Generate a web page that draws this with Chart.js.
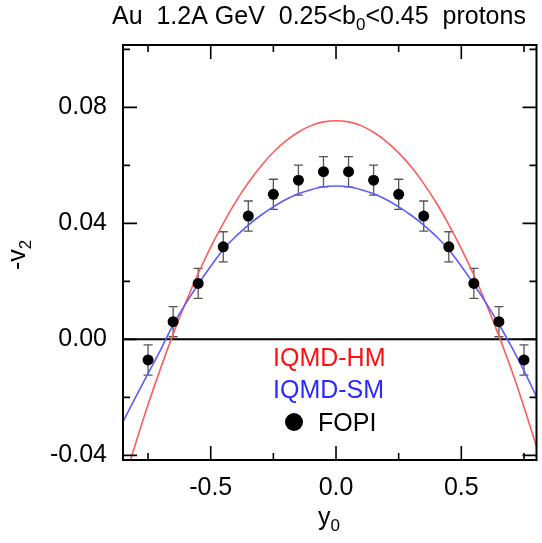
<!DOCTYPE html>
<html>
<head>
<meta charset="utf-8">
<script src="https://cdn.jsdelivr.net/npm/chart.js@4/dist/chart.umd.min.js"></script>
<style>
html,body{margin:0;padding:0;background:#fff;}
canvas{display:block;}
</style>
</head>
<body>
<canvas id="c" width="542" height="543"></canvas>
<script>
// ---- data ----
const curveX = [-0.85,-0.80,-0.75,-0.70,-0.65,-0.60,-0.55,-0.50,-0.45,-0.40,-0.35,-0.30,-0.25,-0.20,-0.15,-0.10,-0.05,
                 0.00, 0.05, 0.10, 0.15, 0.20, 0.25, 0.30, 0.35, 0.40, 0.45, 0.50, 0.55, 0.60, 0.65, 0.70, 0.75, 0.80];
const hmValues = [-0.0500,-0.0360,-0.0225,-0.0100,0.0018,0.0127,0.0227,0.0318,0.0400,0.0475,0.0540,0.0597,0.0645,0.0684,0.0715,0.0737,0.0750,
                   0.0754,0.0750,0.0737,0.0714,0.0683,0.0643,0.0595,0.0537,0.0471,0.0396,0.0313,0.0222,0.0121,0.0012,-0.0105,-0.0233,-0.0370];
const smValues = [-0.0284,-0.0200,-0.0118,-0.0036,0.0050,0.0123,0.0190,0.0252,0.0310,0.0355,0.0394,0.0428,0.0457,0.0482,0.0502,0.0516,0.0526,
                   0.0529,0.0526,0.0516,0.0502,0.0482,0.0457,0.0428,0.0394,0.0355,0.0310,0.0252,0.0190,0.0123,0.0052,-0.0025,-0.0108,-0.0198];
const fopiX = [-0.75,-0.65,-0.55,-0.45,-0.35,-0.25,-0.15,-0.05,0.05,0.15,0.25,0.35,0.45,0.55,0.65,0.75];
const fopiV = [-0.0071,0.0061,0.0193,0.0319,0.0425,0.0500,0.0549,0.0578,0.0578,0.0549,0.0500,0.0425,0.0319,0.0193,0.0061,-0.0071];
const fopiErr = [0.0052,0.0052,0.0052,0.0052,0.0052,0.0052,0.0052,0.0052,0.0052,0.0052,0.0052,0.0052,0.0052,0.0052,0.0052,0.0052];

const xTicks = [-0.5, 0.0, 0.5];
const xMinorTicks = [-0.75, -0.25, 0.25, 0.75];
const yTicks = [-0.04, 0.00, 0.04, 0.08];
const yMinorTicks = [-0.02, 0.02, 0.06, 0.10];
const xRange = [-0.85, 0.80];
const yRange = [-0.0416, 0.1015];

const seriesNames = ['IQMD-HM', 'IQMD-SM', 'FOPI'];
const titleParts = [['Au  1.2A GeV  0.25', 0], ['<', 0], ['b', 0], ['0', 2], ['<', 0], ['0.45  protons', 0]];
const yTitleParts = [['-v', 0], ['2', 2]];
const xTitleParts = [['y', 0], ['0', 2]];

// ---- styles ----
const FONT = '"Liberation Sans", Arial, Helvetica, sans-serif';
const BIG = 25, SMALL = 17;

function drawParts(ctx, parts, x, y) {
  for (const [t, kind] of parts) {
    const size = kind === 0 ? BIG : SMALL;
    ctx.font = size + 'px ' + FONT;
    const dy = kind === 2 ? 6 : 0;
    ctx.fillText(t, x, y + dy);
    x += ctx.measureText(t).width;
  }
}

const decor = {
  id: 'decor',
  beforeDatasetsDraw(chart) {
    const {ctx, chartArea: a, scales: {x, y}} = chart;
    ctx.save();
    // zero line
    ctx.strokeStyle = '#000';
    ctx.lineWidth = 2;
    const y0 = y.getPixelForValue(0);
    ctx.beginPath(); ctx.moveTo(a.left, y0); ctx.lineTo(a.right, y0); ctx.stroke();
    // error bars
    ctx.strokeStyle = '#555';
    ctx.lineWidth = 1.3;
    fopiX.forEach((xv, i) => {
      const px = x.getPixelForValue(xv);
      const top = y.getPixelForValue(fopiV[i] + fopiErr[i]);
      const bot = y.getPixelForValue(fopiV[i] - fopiErr[i]);
      ctx.beginPath();
      ctx.moveTo(px, top); ctx.lineTo(px, bot);
      ctx.moveTo(px - 4.5, top); ctx.lineTo(px + 4.5, top);
      ctx.moveTo(px - 4.5, bot); ctx.lineTo(px + 4.5, bot);
      ctx.stroke();
    });
    ctx.restore();
  },
  afterDatasetsDraw(chart) {
    const {ctx, chartArea: a, scales: {x, y}, data} = chart;
    ctx.save();
    // frame
    ctx.strokeStyle = '#000';
    ctx.lineWidth = 2;
    ctx.strokeRect(a.left, a.top, a.right - a.left, a.bottom - a.top);
    // inward ticks
    ctx.lineWidth = 1.6;
    const tick = (vals, len) => {
      vals.forEach(v => {
        const px = x.getPixelForValue(v);
        ctx.beginPath();
        ctx.moveTo(px, a.bottom); ctx.lineTo(px, a.bottom - len);
        ctx.moveTo(px, a.top); ctx.lineTo(px, a.top + len);
        ctx.stroke();
      });
    };
    const ytick = (vals, len) => {
      vals.forEach(v => {
        const py = y.getPixelForValue(v);
        ctx.beginPath();
        ctx.moveTo(a.left, py); ctx.lineTo(a.left + len, py);
        ctx.moveTo(a.right, py); ctx.lineTo(a.right - len, py);
        ctx.stroke();
      });
    };
    tick(xTicks, 14); tick(xMinorTicks, 7);
    ytick(yTicks, 14); ytick(yMinorTicks, 7);

    ctx.fillStyle = '#000';
    ctx.textBaseline = 'alphabetic';
    ctx.textAlign = 'left';
    // title
    drawParts(ctx, titleParts, 112, 23.5);
    // x title
    drawParts(ctx, xTitleParts, 318, 525);
    // y title (rotated)
    ctx.save();
    ctx.translate(25, 270);
    ctx.rotate(-Math.PI / 2);
    drawParts(ctx, yTitleParts, 0, 0);
    ctx.restore();

    // legend inside plot
    ctx.font = BIG + 'px ' + FONT;
    const ds = data.datasets;
    ctx.fillStyle = ds[0].legendColor; ctx.fillText(ds[0].label, 273, 366);
    ctx.fillStyle = ds[1].legendColor; ctx.fillText(ds[1].label, 273, 398);
    ctx.fillStyle = '#000';
    ctx.beginPath(); ctx.arc(294, 422, 9, 0, Math.PI * 2); ctx.fill();
    ctx.fillText(ds[2].label, 318, 431);
    ctx.restore();
  }
};

const toXY = (xs, ys) => xs.map((v, i) => ({x: v, y: ys[i]}));

new Chart(document.getElementById('c'), {
  type: 'scatter',
  data: {
    datasets: [
      {label: seriesNames[0], data: toXY(curveX, hmValues), showLine: true, borderColor: '#ff5c5c', borderWidth: 1.6,
       pointRadius: 0, cubicInterpolationMode: 'monotone', legendColor: '#ff1010', order: 2},
      {label: seriesNames[1], data: toXY(curveX, smValues), showLine: true, borderColor: '#5c5cff', borderWidth: 1.6,
       pointRadius: 0, cubicInterpolationMode: 'monotone', legendColor: '#2a2aff', order: 1},
      {label: seriesNames[2], data: toXY(fopiX, fopiV), showLine: false, pointRadius: 5.5, pointHoverRadius: 5.5,
       backgroundColor: '#000', borderColor: '#000', borderWidth: 0, order: 0}
    ]
  },
  options: {
    responsive: false,
    animation: false,
    devicePixelRatio: 1,
    layout: {padding: {top: 45, right: 2, left: 0, bottom: 0}},
    plugins: {legend: {display: false}, tooltip: {enabled: false}, title: {display: false}},
    scales: {
      x: {
        type: 'linear', position: 'bottom', min: xRange[0], max: xRange[1],
        afterFit(s) { s.height = 83; },
        afterBuildTicks(s) { s.ticks = xTicks.map(v => ({value: v})); },
        ticks: {callback: v => Number(v).toFixed(1), color: '#000', font: {family: FONT, size: BIG}, padding: 5,
                maxRotation: 0, autoSkip: false},
        grid: {display: false}, border: {display: false}
      },
      y: {
        type: 'linear', position: 'left', min: yRange[0], max: yRange[1],
        afterFit(s) { s.width = 123; },
        afterBuildTicks(s) { s.ticks = yTicks.map(v => ({value: v})); },
        ticks: {callback: v => Number(v).toFixed(2), color: '#000', font: {family: FONT, size: BIG}, padding: 8,
                autoSkip: false},
        grid: {display: false}, border: {display: false}
      }
    }
  },
  plugins: [decor]
});
</script>
</body>
</html>
